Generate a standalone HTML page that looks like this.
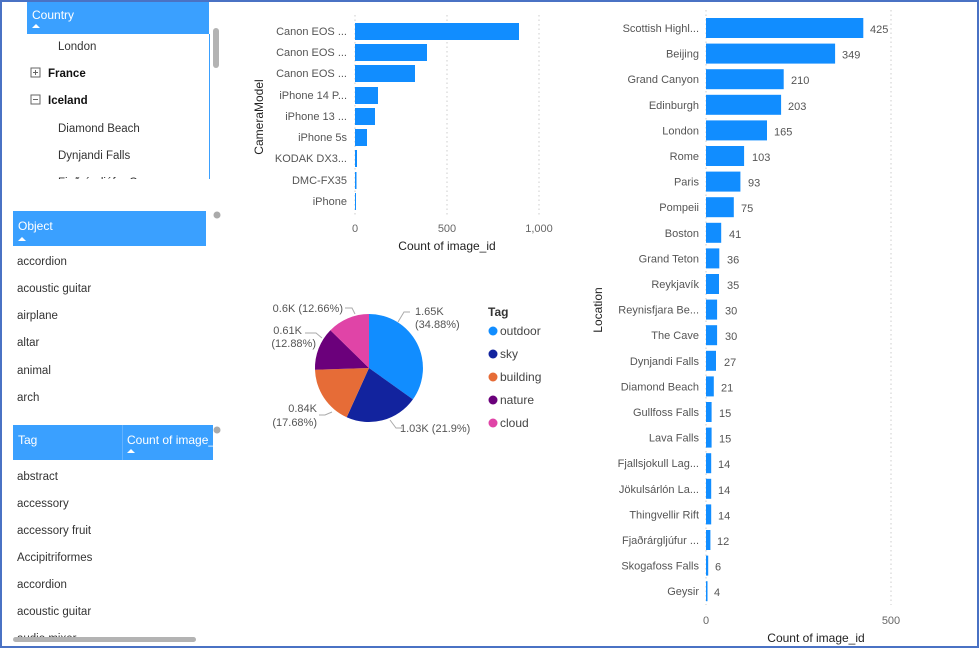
<!DOCTYPE html>
<html><head><meta charset="utf-8"><style>
html,body{margin:0;padding:0;background:#fff;}
body{width:979px;height:648px;overflow:hidden;position:relative;font-family:"Liberation Sans",sans-serif;}
</style></head><body>
<svg width="979" height="648" viewBox="0 0 979 648" xmlns="http://www.w3.org/2000/svg" style="position:absolute;left:0;top:0;font-family:'Liberation Sans',sans-serif">
<defs>
<clipPath id="c1"><rect x="27" y="34" width="182" height="145"/></clipPath>
<clipPath id="c2"><rect x="0" y="460" width="220" height="177"/></clipPath>
</defs>
<rect x="1" y="1" width="977" height="646" fill="#fff" stroke="#4a72c4" stroke-width="2"/>
<!-- Country slicer -->
<rect x="27" y="2" width="182" height="32" fill="#3aa0ff"/>
<text x="32" y="19" font-size="12" fill="#fff">Country</text>
<path d="M32 28 L36 24 L40 28 Z" fill="#fff"/>
<line x1="209.5" y1="34" x2="209.5" y2="179" stroke="#3aa0ff" stroke-width="1"/>
<rect x="213" y="28" width="6" height="40" rx="3" fill="#b3b3b3"/>
<g font-size="11.5" fill="#333" clip-path="url(#c1)">
<text x="58" y="50">London</text>
<text x="48" y="77" font-weight="bold" fill="#111">France</text>
<text x="48" y="104" font-weight="bold" fill="#111">Iceland</text>
<text x="58" y="132">Diamond Beach</text>
<text x="58" y="159">Dynjandi Falls</text>
<text x="58" y="186">Fjaðrárgljúfur C...</text>
</g>
<rect x="31" y="68" width="9" height="9" fill="none" stroke="#666"/><path d="M33 72.5 H38 M35.5 70 V75" stroke="#666"/>
<rect x="31" y="95" width="9" height="9" fill="none" stroke="#666"/><path d="M33 99.5 H38" stroke="#666"/>
<!-- Object slicer -->
<rect x="13" y="211" width="193" height="35" fill="#3aa0ff"/>
<text x="18" y="230" font-size="12" fill="#fff">Object</text>
<path d="M18 241 L22 237 L26 241 Z" fill="#fff"/>
<circle cx="217" cy="215" r="3.5" fill="#aaa"/>
<g font-size="11.5" fill="#333">
<text x="17" y="265">accordion</text>
<text x="17" y="292">acoustic guitar</text>
<text x="17" y="319">airplane</text>
<text x="17" y="346">altar</text>
<text x="17" y="374">animal</text>
<text x="17" y="401">arch</text>
</g>
<!-- Tag table -->
<rect x="13" y="425" width="200" height="35" fill="#3aa0ff"/>
<line x1="122.5" y1="425" x2="122.5" y2="460" stroke="#62b2ff"/>
<text x="18" y="444" font-size="12" fill="#fff">Tag</text>
<text x="127" y="444" font-size="12" fill="#fff">Count of image_</text>
<path d="M127 453 L131 449 L135 453 Z" fill="#fff"/>
<circle cx="217" cy="430" r="3.5" fill="#aaa"/>
<g font-size="11.5" fill="#333" clip-path="url(#c2)">
<text x="17" y="480">abstract</text>
<text x="17" y="507">accessory</text>
<text x="17" y="534">accessory fruit</text>
<text x="17" y="561">Accipitriformes</text>
<text x="17" y="588">accordion</text>
<text x="17" y="615">acoustic guitar</text>
<text x="17" y="642">audio mixer</text>
</g>
<rect x="13" y="637" width="183" height="5" rx="2.5" fill="#b3b3b3"/>

<!-- Camera chart -->
<g stroke="#ccc" stroke-dasharray="1.5,3"><line x1="447" y1="15" x2="447" y2="215"/><line x1="539" y1="15" x2="539" y2="215"/><line x1="355" y1="15" x2="355" y2="215"/></g>
<g fill="#118dff">
<rect x="355" y="23" width="164" height="17"/>
<rect x="355" y="44" width="72" height="17"/>
<rect x="355" y="65" width="60" height="17"/>
<rect x="355" y="87" width="23" height="17"/>
<rect x="355" y="108" width="20" height="17"/>
<rect x="355" y="129" width="12" height="17"/>
<rect x="355" y="150" width="2" height="17"/>
<rect x="355" y="172" width="1.5" height="17"/>
<rect x="355" y="193" width="1" height="17"/>
</g>
<g font-size="11" fill="#555" text-anchor="end">
<text x="347" y="35">Canon EOS ...</text>
<text x="347" y="56">Canon EOS ...</text>
<text x="347" y="77">Canon EOS ...</text>
<text x="347" y="99">iPhone 14 P...</text>
<text x="347" y="120">iPhone 13 ...</text>
<text x="347" y="141">iPhone 5s</text>
<text x="347" y="162">KODAK DX3...</text>
<text x="347" y="184">DMC-FX35</text>
<text x="347" y="205">iPhone</text>
</g>
<g font-size="11" fill="#666" text-anchor="middle"><text x="355" y="232">0</text><text x="447" y="232">500</text><text x="539" y="232">1,000</text></g>
<text x="447" y="250" font-size="12" fill="#222" text-anchor="middle">Count of image_id</text>
<text transform="translate(263,117) rotate(-90)" font-size="12" fill="#222" text-anchor="middle">CameraModel</text>

<!-- Pie -->
<path d="M369 368 L369 314 A54 54 0 0 1 412.9 399.4 Z" fill="#118dff"/>
<path d="M369 368 L412.9 399.4 A54 54 0 0 1 346.7 417.2 Z" fill="#12239e"/>
<path d="M369 368 L346.7 417.2 A54 54 0 0 1 315 369.8 Z" fill="#e66c37"/>
<path d="M369 368 L315 369.8 A54 54 0 0 1 330.4 330.2 Z" fill="#6b007b"/>
<path d="M369 368 L330.4 330.2 A54 54 0 0 1 369 314 Z" fill="#e044a7"/>
<g stroke="#aaa" fill="none"><path d="M398 322 L404 312 H410"/><path d="M390 420 L396 428 H402"/><path d="M332 412 L325 415 H319"/><path d="M322 338 L316 333 H305"/><path d="M355 314 L352 308 H345"/></g>
<g font-size="11" fill="#555">
<text x="415" y="315">1.65K</text><text x="415" y="328">(34.88%)</text>
<text x="400" y="432">1.03K (21.9%)</text>
<text x="317" y="412" text-anchor="end">0.84K</text><text x="317" y="426" text-anchor="end">(17.68%)</text>
<text x="302" y="334" text-anchor="end">0.61K</text><text x="316" y="347" text-anchor="end">(12.88%)</text>
<text x="343" y="312" text-anchor="end">0.6K (12.66%)</text>
</g>
<text x="488" y="316" font-size="12" font-weight="bold" fill="#333">Tag</text>
<g font-size="12" fill="#444">
<circle cx="493" cy="331" r="4.5" fill="#118dff"/><text x="500" y="335">outdoor</text>
<circle cx="493" cy="354" r="4.5" fill="#12239e"/><text x="500" y="358">sky</text>
<circle cx="493" cy="377" r="4.5" fill="#e66c37"/><text x="500" y="381">building</text>
<circle cx="493" cy="400" r="4.5" fill="#6b007b"/><text x="500" y="404">nature</text>
<circle cx="493" cy="423" r="4.5" fill="#e044a7"/><text x="500" y="427">cloud</text>
</g>

<!-- Location chart -->
<g stroke="#ccc" stroke-dasharray="1.5,3"><line x1="706" y1="10" x2="706" y2="605"/><line x1="891" y1="10" x2="891" y2="605"/></g>
<g fill="#118dff">
<rect x="706" y="18" width="157.3" height="20"/>
<rect x="706" y="43.6" width="129.1" height="20"/>
<rect x="706" y="69.2" width="77.7" height="20"/>
<rect x="706" y="94.8" width="75.1" height="20"/>
<rect x="706" y="120.4" width="61" height="20"/>
<rect x="706" y="146" width="38.1" height="20"/>
<rect x="706" y="171.6" width="34.4" height="20"/>
<rect x="706" y="197.2" width="27.8" height="20"/>
<rect x="706" y="222.8" width="15.2" height="20"/>
<rect x="706" y="248.4" width="13.3" height="20"/>
<rect x="706" y="274" width="13" height="20"/>
<rect x="706" y="299.6" width="11.1" height="20"/>
<rect x="706" y="325.2" width="11.1" height="20"/>
<rect x="706" y="350.8" width="10" height="20"/>
<rect x="706" y="376.4" width="7.8" height="20"/>
<rect x="706" y="402" width="5.6" height="20"/>
<rect x="706" y="427.6" width="5.6" height="20"/>
<rect x="706" y="453.2" width="5.2" height="20"/>
<rect x="706" y="478.8" width="5.2" height="20"/>
<rect x="706" y="504.4" width="5.2" height="20"/>
<rect x="706" y="530" width="4.4" height="20"/>
<rect x="706" y="555.6" width="2.2" height="20"/>
<rect x="706" y="581.2" width="1.5" height="20"/>
</g>
<g font-size="11" fill="#555" text-anchor="end">
<text x="699" y="32">Scottish Highl...</text>
<text x="699" y="57.6">Beijing</text>
<text x="699" y="83.2">Grand Canyon</text>
<text x="699" y="108.8">Edinburgh</text>
<text x="699" y="134.4">London</text>
<text x="699" y="160">Rome</text>
<text x="699" y="185.6">Paris</text>
<text x="699" y="211.2">Pompeii</text>
<text x="699" y="236.8">Boston</text>
<text x="699" y="262.4">Grand Teton</text>
<text x="699" y="288">Reykjavík</text>
<text x="699" y="313.6">Reynisfjara Be...</text>
<text x="699" y="339.2">The Cave</text>
<text x="699" y="364.8">Dynjandi Falls</text>
<text x="699" y="390.4">Diamond Beach</text>
<text x="699" y="416">Gullfoss Falls</text>
<text x="699" y="441.6">Lava Falls</text>
<text x="699" y="467.2">Fjallsjokull Lag...</text>
<text x="699" y="492.8">Jökulsárlón La...</text>
<text x="699" y="518.4">Thingvellir Rift</text>
<text x="699" y="544">Fjaðrárgljúfur ...</text>
<text x="699" y="569.6">Skogafoss Falls</text>
<text x="699" y="595.2">Geysir</text>
</g>
<g font-size="11" fill="#555">
<text x="870" y="33">425</text>
<text x="842" y="58.6">349</text>
<text x="791" y="84.2">210</text>
<text x="788" y="109.8">203</text>
<text x="774" y="135.4">165</text>
<text x="752" y="161">103</text>
<text x="748" y="186.6">93</text>
<text x="741" y="212.2">75</text>
<text x="729" y="237.8">41</text>
<text x="727" y="263.4">36</text>
<text x="727" y="289">35</text>
<text x="725" y="314.6">30</text>
<text x="725" y="340.2">30</text>
<text x="724" y="365.8">27</text>
<text x="721" y="391.4">21</text>
<text x="719" y="417">15</text>
<text x="719" y="442.6">15</text>
<text x="718" y="468.2">14</text>
<text x="718" y="493.8">14</text>
<text x="718" y="519.4">14</text>
<text x="717" y="545">12</text>
<text x="715" y="570.6">6</text>
<text x="714" y="596.2">4</text>
</g>
<g font-size="11" fill="#666" text-anchor="middle"><text x="706" y="624">0</text><text x="891" y="624">500</text></g>
<text x="816" y="642" font-size="12" fill="#222" text-anchor="middle">Count of image_id</text>
<text transform="translate(602,310) rotate(-90)" font-size="12" fill="#222" text-anchor="middle">Location</text>
</svg>
</body></html>
